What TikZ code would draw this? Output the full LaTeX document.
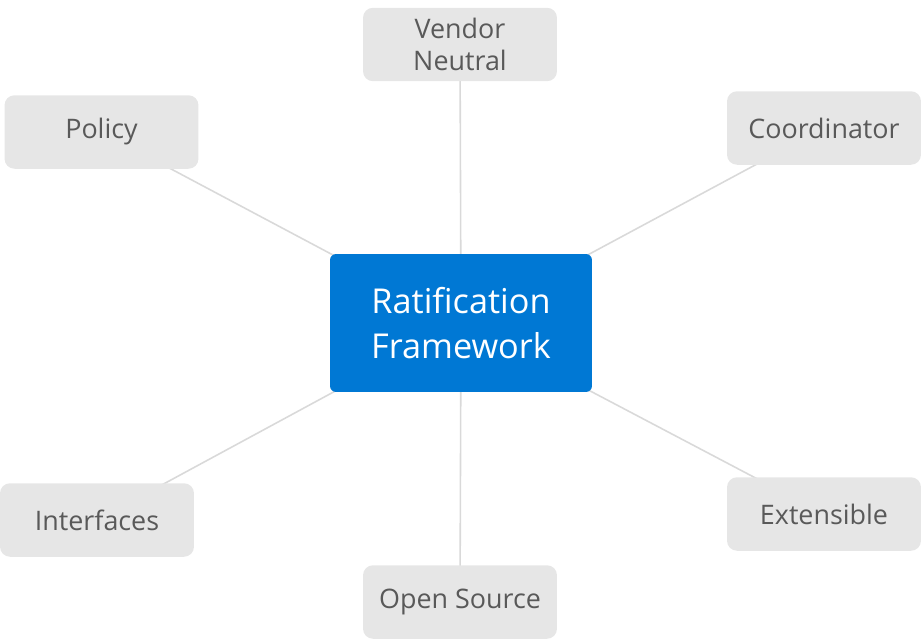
\documentclass[tikz,border=0pt]{standalone}
\usepackage{fontspec}
\setmainfont{Open Sans}
\usepackage{tikz}
\usetikzlibrary{positioning, backgrounds}
\definecolor{hub_blue}{HTML}{0078D4}
\definecolor{leaf_gray}{HTML}{E6E6E6}
\definecolor{leaf_text}{HTML}{595959}
\definecolor{link_gray}{HTML}{D9D9D9}
\tikzset{
  hub_box/.style={rectangle, fill=hub_blue, rounded corners=1.2mm, minimum width=5.24cm, minimum height=2.76cm, align=center, text=white, font=\fontsize{19.5}{25.5}\selectfont},
  leaf_box/.style={rectangle, fill=leaf_gray, rounded corners=2mm, minimum width=3.88cm, minimum height=1.47cm, align=center, text=leaf_text, font=\fontsize{15.3}{18.5}\selectfont},
  link/.style={-, link_gray, line width=0.9pt}
}

\begin{document}
\begin{tikzpicture}[x=0.02cm, y=-0.02cm]
    \useasboundingbox (0,0) rectangle (922,640);

    \node[hub_box](framework) at (461,323) {Ratification\\Framework};
    \node[leaf_box](vendor) at (460,44.5) {Vendor\\Neutral};
    \node[leaf_box](policy) at (101.5,132) {Policy};
    \node[leaf_box](coordinator) at (824,128) {Coordinator};
    \node[leaf_box](interfaces) at (97,520) {Interfaces};
    \node[leaf_box](extensible) at (824,514) {Extensible};
    \node[leaf_box](open_source) at (460,602) {Open Source};

    \begin{scope}[on background layer]
        \draw[link] (framework.center) -- (vendor.center);
        \draw[link] (framework.center) -- (policy.center);
        \draw[link] (framework.center) -- (coordinator.center);
        \draw[link] (framework.center) -- (interfaces.center);
        \draw[link] (framework.center) -- (extensible.center);
        \draw[link] (framework.center) -- (open_source.center);
    \end{scope}
\end{tikzpicture}
\end{document}
